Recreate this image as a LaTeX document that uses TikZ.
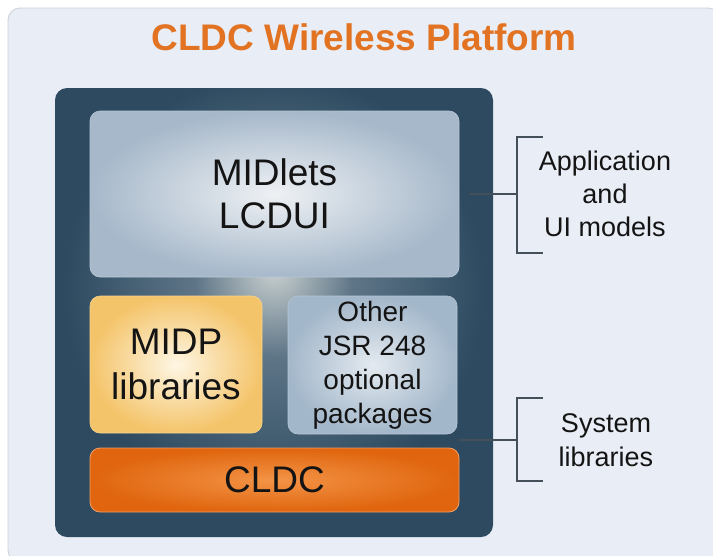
\documentclass[tikz,border=0pt]{standalone}
\usepackage{fontspec}
\setmainfont{Liberation Sans}
\usetikzlibrary{shadings}

\definecolor{pagebg}{HTML}{E9EEF6}
\definecolor{pageedge}{HTML}{C9D1DB}
\definecolor{titleorange}{HTML}{E27322}
\definecolor{pglow}{HTML}{CBD2D1}
\definecolor{pmid}{HTML}{5E7587}
\definecolor{pdark}{HTML}{2D4A60}
\definecolor{inktext}{HTML}{141414}
\definecolor{bracketgrey}{HTML}{454F59}
\definecolor{uiin}{HTML}{EEF1F4}
\definecolor{uiout}{HTML}{A6B8CA}
\definecolor{uiedge}{HTML}{B9C8D6}
\definecolor{midpin}{HTML}{FEF6E4}
\definecolor{midpout}{HTML}{F4C46A}
\definecolor{midpedge}{HTML}{F7D48E}
\definecolor{optin}{HTML}{E4EAF0}
\definecolor{optout}{HTML}{A3B7CA}
\definecolor{optedge}{HTML}{B7C6D4}
\definecolor{cldcin}{HTML}{F39446}
\definecolor{cldcout}{HTML}{E0650E}
\definecolor{cldcedge}{HTML}{F2A066}

% glow behind the stacked boxes of the platform panel
\pgfdeclareradialshading{panelglow}{\pgfpoint{0bp}{5bp}}{%
  color(0bp)=(pglow); color(9bp)=(pmid); color(24bp)=(pdark); color(50bp)=(pdark)}

\tikzset{
  layer/.style={rounded corners=10pt, align=center, text=inktext, inner sep=0pt},
  uilayer/.style={layer, inner color=uiin, outer color=uiout, draw=uiedge, line width=0.6pt},
  midplayer/.style={layer, inner color=midpin, outer color=midpout, draw=midpedge, line width=0.6pt},
  optlayer/.style={layer, inner color=optin, outer color=optout, draw=optedge, line width=0.6pt},
  cldclayer/.style={layer, inner color=cldcin, outer color=cldcout, draw=cldcedge, line width=0.8pt},
  bracket/.style={draw=bracketgrey, line width=1.8pt},
  sidelabel/.style={align=center, text=inktext, inner sep=0pt}
}

\begin{document}
\begin{tikzpicture}[x=1pt, y=-1pt]
  % page and its light backdrop
  \useasboundingbox (0,0) rectangle (713,555);
  \fill[white] (0,0) rectangle (713,555);
  \path[fill=pagebg, draw=pageedge, line width=0.8pt, rounded corners=12pt]
    (8,8) rectangle (720,562);

  % heading
  \node[text=titleorange, font=\bfseries\fontsize{37}{40}\selectfont, inner sep=0pt]
    (title) at (364,37) {CLDC Wireless Platform};

  % dark platform panel
  \node[rounded corners=12pt, shading=panelglow, minimum width=438pt, minimum height=449pt,
    inner sep=0pt] (panel) at (274,312.5) {};

  % stacked layers
  \node[uilayer, minimum width=369pt, minimum height=166pt,
    font=\fontsize{37}{43}\selectfont] (ui) at (274.5,194) {MIDlets\\LCDUI};
  \node[midplayer, minimum width=172pt, minimum height=137pt,
    font=\fontsize{37}{45}\selectfont] (midp) at (176,364.5) {MIDP\\libraries};
  \node[optlayer, minimum width=169pt, minimum height=138pt,
    font=\fontsize{28}{34}\selectfont] (opt) at (372.5,365) {Other\\JSR 248\\optional\\packages};
  \node[cldclayer, minimum width=369pt, minimum height=64pt,
    font=\fontsize{37}{40}\selectfont] (cldc) at (274.5,480) {CLDC};

  % brackets grouping the layers
  \coordinate (apptop) at (543,137);
  \coordinate (appbot) at (543,253);
  \coordinate (appjoin) at (517,194);
  \coordinate (appfoot) at (470,194);
  \draw[bracket] (apptop) -| (appjoin |- appbot) -- (appbot);
  \draw[bracket] (appfoot) -- (appjoin);

  \coordinate (systop) at (543,398);
  \coordinate (sysbot) at (543,481);
  \coordinate (sysjoin) at (517,440);
  \coordinate (sysfoot) at (458,440);
  \draw[bracket] (systop) -| (sysjoin |- sysbot) -- (sysbot);
  \draw[bracket] (sysfoot) -- (sysjoin);

  % group labels
  \node[sidelabel, font=\fontsize{27}{33}\selectfont] (applabel) at (605,194)
    {Application\\and\\UI models};
  \node[sidelabel, font=\fontsize{27}{34}\selectfont] (syslabel) at (606,440)
    {System\\libraries};
\end{tikzpicture}
\end{document}
